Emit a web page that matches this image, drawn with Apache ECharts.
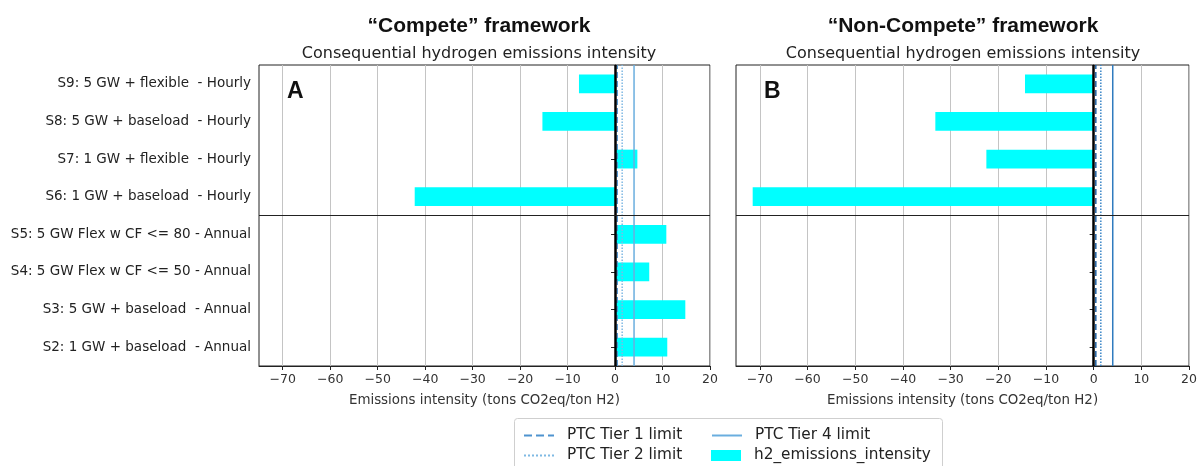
<!DOCTYPE html>
<html>
<head>
<meta charset="utf-8">
<script src="https://cdn.jsdelivr.net/npm/echarts@6/dist/echarts.min.js"></script>
<style>html,body{margin:0;padding:0;background:#fff}#c{width:1200px;height:466px}</style>
</head>
<body>
<div id="c"></div>
<script>
// ---- data ----
const categories = [
  'S2: 1 GW + baseload  - Annual',
  'S3: 5 GW + baseload  - Annual',
  'S4: 5 GW Flex w CF <= 50 - Annual',
  'S5: 5 GW Flex w CF <= 80 - Annual',
  'S6: 1 GW + baseload  - Hourly',
  'S7: 1 GW + flexible  - Hourly',
  'S8: 5 GW + baseload  - Hourly',
  'S9: 5 GW + flexible  - Hourly'
];
const competeValues    = [11.0, 14.8, 7.2, 10.8, -42.2, 4.7, -15.3, -7.6];
const nonCompeteValues = [0, 0, 0, 0, -71.5, -22.5, -33.2, -14.4];
const tierNames  = ['PTC Tier 1 limit', 'PTC Tier 2 limit', 'PTC Tier 4 limit'];
const tierLimits = [0.45, 1.5, 4.0];
const xTicks = [-70, -60, -50, -40, -30, -20, -10, 0, 10, 20];
const panelTitles = ['\u201cCompete\u201d framework', '\u201cNon-Compete\u201d framework'];
const panelSubtitle = 'Consequential hydrogen emissions intensity';
const panelLetters = ['A', 'B'];
const xAxisName = 'Emissions intensity (tons CO2eq/ton H2)';
const barName = 'h2_emissions_intensity';

// ---- layout ----
const grids = [
  {left: 259, top: 65, width: 451, height: 301},
  {left: 736, top: 65, width: 454, height: 301}
];
const titleCenters = [474, 958];
const FONT = 'DejaVu Sans';
const tierStyles = [
  {type: 'dashed', width: 1.5},
  {type: 'dotted', width: 1.5},
  {type: 'solid', width: 1.5}
];
const tierColors = [
  ['#4f93cf', '#7fb9e3', '#6aaedf'],
  ['#1f5f9f', '#3a86c8', '#2f7bbf']
];

const chart = echarts.init(document.getElementById('c'), null, {renderer: 'canvas'});
const fmt = v => v < 0 ? '\u2212' + Math.abs(v) : String(v);

const title = [];
grids.forEach((g, i) => {
  const cx = titleCenters[i];
  title.push({text: panelTitles[i], left: cx, top: 11, textAlign: 'center',
    textStyle: {fontFamily: 'Liberation Sans', fontWeight: 'bold', fontSize: 21, color: '#111'}});
  title.push({text: panelSubtitle, left: cx, top: 41, textAlign: 'center',
    textStyle: {fontFamily: FONT, fontWeight: 'normal', fontSize: 16, color: '#222'}});
  title.push({text: panelLetters[i], left: g.left + 23, top: 75,
    textStyle: {fontFamily: 'Liberation Sans', fontWeight: 'bold', fontSize: 23, color: '#111'}});
});

const xAxis = grids.map((g, i) => ({
  type: 'value', gridIndex: i, min: -75, max: 20,
  name: xAxisName, nameLocation: 'middle', nameGap: 28,
  nameTextStyle: {fontFamily: FONT, fontSize: 13.4, color: '#333'},
  axisLine: {show: true, onZero: false, lineStyle: {color: '#222', width: 1}},
  axisTick: {show: true, customValues: xTicks, length: 4, lineStyle: {color: '#222'}},
  axisLabel: {customValues: xTicks, formatter: fmt, fontFamily: FONT, fontSize: 12.5, color: '#333', margin: 7},
  splitLine: {show: true, lineStyle: {color: '#c4c4c4', width: 1}}
}));

const yAxis = [];
grids.forEach((g, i) => {
  yAxis.push({
    type: 'category', gridIndex: i, data: categories,
    axisLine: {show: true, lineStyle: {color: '#222'}},
    axisTick: {show: true, alignWithLabel: true, length: 4, lineStyle: {color: '#222'}},
    axisLabel: {show: i === 0, fontFamily: FONT, fontSize: 13.5, color: '#222', margin: 8},
    splitLine: {show: false}
  });
  yAxis.push({type: 'value', gridIndex: i, min: -0.5, max: 7.5, show: false});
});

const series = [];
[competeValues, nonCompeteValues].forEach((vals, i) => {
  series.push({
    type: 'bar', name: barName, xAxisIndex: i, yAxisIndex: 2 * i,
    data: vals, barWidth: '50%', itemStyle: {color: '#00ffff'}, z: 2,
    markLine: {silent: true, symbol: 'none', label: {show: false},
      lineStyle: {color: '#000', width: 2.5, type: 'solid'}, data: [{xAxis: 0}], z: 5}
  });
  tierNames.forEach((nm, k) => {
    const s = {
      type: 'line', name: nm, xAxisIndex: i, yAxisIndex: 2 * i + 1,
      data: [[tierLimits[k], -0.5], [tierLimits[k], 7.5]],
      symbol: 'none', silent: true, z: 4,
      lineStyle: {color: tierColors[i][k], type: tierStyles[k].type, width: tierStyles[k].width},
      itemStyle: {color: tierColors[i][k]}
    };
    if (k === 2) {
      s.markLine = {silent: true, symbol: 'none', label: {show: false},
        lineStyle: {color: '#222', width: 1, type: 'solid'}, data: [{yAxis: 3.5}]};
    }
    series.push(s);
  });
});

const legendText = {fontFamily: FONT, fontSize: 15.3, color: '#222', padding: [0, 0, 0, 8]};
const legendItems = [
  {name: tierNames[0], left: 523, top: 428, line: true},
  {name: tierNames[1], left: 523, top: 448, line: true},
  {name: tierNames[2], left: 711, top: 428, line: true},
  {name: barName, left: 711, top: 448, line: false}
];
const legend = legendItems.map(it => ({
  left: it.left, top: it.top, padding: 0, itemWidth: 30, itemHeight: 11,
  data: [it.line ? it.name : {name: it.name, icon: 'rect'}],
  textStyle: legendText, selectedMode: false,
  itemStyle: it.line ? {opacity: 0} : {}
}));

const option = {
  backgroundColor: '#fff',
  animation: false,
  title: title,
  grid: grids.map(g => Object.assign({show: true, borderColor: '#222', borderWidth: 1, backgroundColor: 'transparent'}, g)),
  xAxis: xAxis,
  yAxis: yAxis,
  legend: legend,
  graphic: [{type: 'rect', left: 514, top: 418, shape: {width: 428, height: 60, r: 3},
    style: {fill: 'rgba(255,255,255,0)', stroke: '#cfcfcf', lineWidth: 1}, z: -1}],
  series: series
};
chart.setOption(option);
</script>
</body>
</html>
